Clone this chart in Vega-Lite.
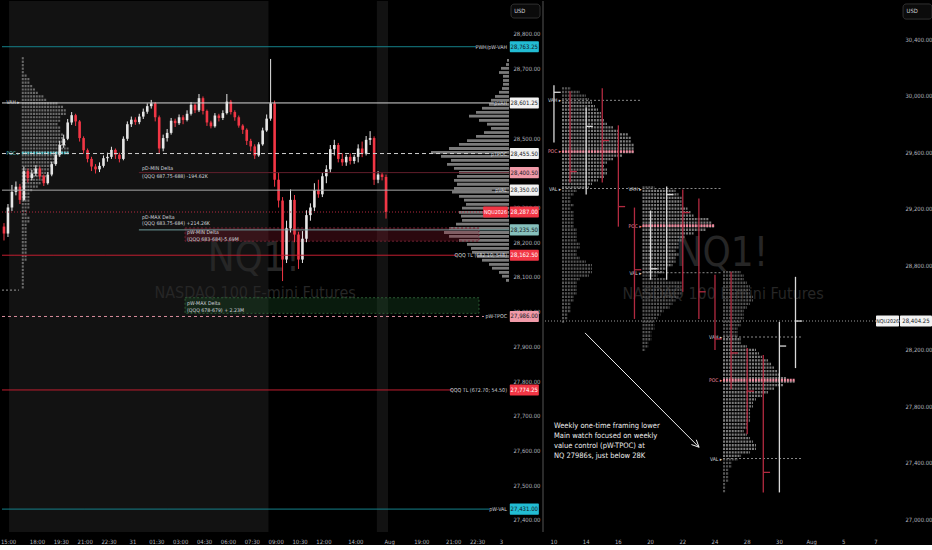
{
  "$schema": "https://vega.github.io/schema/vega-lite/v6.json",
  "background": "#000000",
  "padding": 0,
  "spacing": 34,
  "bounds": "flush",
  "config": {
    "view": {"stroke": null},
    "axis": {"grid": false, "domain": false, "ticks": false, "labelOverlap": false, "labelSeparation": 0, "labelBound": false, "labelFont": "Liberation Sans Narrow, DejaVu Sans Condensed, Roboto Condensed, Liberation Sans, sans-serif", "labelFontSize": 5.9, "labelColor": "#b2b5be"},
    "text": {"font": "Liberation Sans Narrow, DejaVu Sans Condensed, Roboto Condensed, Liberation Sans, sans-serif"}
  },
  "datasets": {
    "bands": [{"s": 1.26, "e": 66.46}, {"s": 93.7, "e": 96.5}],
    "timeL": [
      {"v": 1.15, "t": "15:00"}, {"v": 8.4, "t": "18:00"}, {"v": 14.4, "t": "19:30"}, {"v": 20.4, "t": "21:00"},
      {"v": 26.4, "t": "22:30"}, {"v": 32.4, "t": "31"}, {"v": 38.4, "t": "01:30"}, {"v": 44.4, "t": "03:00"},
      {"v": 50.4, "t": "04:30"}, {"v": 56.4, "t": "06:00"}, {"v": 62.4, "t": "07:30"}, {"v": 68.4, "t": "09:00"},
      {"v": 74.4, "t": "10:30"}, {"v": 80.4, "t": "12:00"}, {"v": 88.4, "t": "14:00"}, {"v": 96.9, "t": "Aug"},
      {"v": 105, "t": "19:00"}, {"v": 113, "t": "21:00"}, {"v": 119, "t": "22:30"}, {"v": 125, "t": "3"}
    ],
    "timeR": [
      {"v": 0, "t": "10"}, {"v": 2, "t": "14"}, {"v": 4, "t": "16"}, {"v": 6, "t": "20"}, {"v": 8, "t": "22"},
      {"v": 10, "t": "24"}, {"v": 12, "t": "28"}, {"v": 14, "t": "30"}, {"v": 16, "t": "Aug"}, {"v": 18, "t": "5"},
      {"v": 20, "t": "7"}
    ],
    "wm": [
      {"panel": "L", "role": "sym", "t": "NQ1!", "x": 62.8, "p": 28152},
      {"panel": "L", "role": "name", "t": "NASDAQ 100 E-mini Futures", "x": 63.1, "p": 28054},
      {"panel": "R", "role": "sym", "t": "NQ1!", "x": 10.43, "p": 28881},
      {"panel": "R", "role": "name", "t": "NASDAQ 100 E-mini Futures", "x": 10.5, "p": 28597}
    ],
    "candles": [
      {"i":0,"o":28245,"h":28255,"l":28205,"c":28225},{"i":1,"o":28225,"h":28310,"l":28215,"c":28300},
      {"i":2,"o":28300,"h":28365,"l":28290,"c":28345},{"i":3,"o":28345,"h":28375,"l":28335,"c":28360},
      {"i":4,"o":28360,"h":28368,"l":28310,"c":28322},{"i":5,"o":28322,"h":28418,"l":28318,"c":28405},
      {"i":6,"o":28405,"h":28412,"l":28372,"c":28385},{"i":7,"o":28385,"h":28408,"l":28378,"c":28398},
      {"i":8,"o":28398,"h":28422,"l":28390,"c":28412},{"i":9,"o":28412,"h":28418,"l":28382,"c":28390},
      {"i":10,"o":28390,"h":28395,"l":28362,"c":28370},{"i":11,"o":28370,"h":28402,"l":28366,"c":28395},
      {"i":12,"o":28395,"h":28432,"l":28390,"c":28425},{"i":13,"o":28425,"h":28460,"l":28420,"c":28452},
      {"i":14,"o":28452,"h":28492,"l":28446,"c":28480},{"i":15,"o":28480,"h":28510,"l":28472,"c":28498},
      {"i":16,"o":28498,"h":28555,"l":28494,"c":28545},{"i":17,"o":28545,"h":28575,"l":28538,"c":28566},
      {"i":18,"o":28566,"h":28570,"l":28535,"c":28548},{"i":19,"o":28548,"h":28552,"l":28490,"c":28500},
      {"i":20,"o":28500,"h":28505,"l":28455,"c":28465},{"i":21,"o":28465,"h":28470,"l":28430,"c":28440},
      {"i":22,"o":28440,"h":28446,"l":28405,"c":28418},{"i":23,"o":28418,"h":28425,"l":28398,"c":28410},
      {"i":24,"o":28410,"h":28430,"l":28402,"c":28420},{"i":25,"o":28420,"h":28450,"l":28415,"c":28442},
      {"i":26,"o":28442,"h":28458,"l":28432,"c":28446},{"i":27,"o":28446,"h":28475,"l":28440,"c":28466},
      {"i":28,"o":28466,"h":28470,"l":28440,"c":28452},{"i":29,"o":28452,"h":28458,"l":28430,"c":28440},
      {"i":30,"o":28440,"h":28505,"l":28436,"c":28498},{"i":31,"o":28498,"h":28548,"l":28492,"c":28540},
      {"i":32,"o":28540,"h":28562,"l":28532,"c":28553},{"i":33,"o":28553,"h":28560,"l":28538,"c":28546},
      {"i":34,"o":28546,"h":28570,"l":28540,"c":28562},{"i":35,"o":28562,"h":28585,"l":28555,"c":28576},
      {"i":36,"o":28576,"h":28600,"l":28570,"c":28592},{"i":37,"o":28592,"h":28610,"l":28585,"c":28600},
      {"i":38,"o":28600,"h":28604,"l":28548,"c":28560},{"i":39,"o":28560,"h":28565,"l":28455,"c":28470},
      {"i":40,"o":28470,"h":28510,"l":28462,"c":28500},{"i":41,"o":28500,"h":28526,"l":28490,"c":28515},
      {"i":42,"o":28515,"h":28558,"l":28510,"c":28550},{"i":43,"o":28550,"h":28556,"l":28532,"c":28543},
      {"i":44,"o":28543,"h":28568,"l":28538,"c":28560},{"i":45,"o":28560,"h":28566,"l":28540,"c":28552},
      {"i":46,"o":28552,"h":28580,"l":28548,"c":28570},{"i":47,"o":28570,"h":28604,"l":28565,"c":28596},
      {"i":48,"o":28596,"h":28600,"l":28572,"c":28580},{"i":49,"o":28580,"h":28627,"l":28575,"c":28615},
      {"i":50,"o":28615,"h":28620,"l":28568,"c":28578},{"i":51,"o":28578,"h":28582,"l":28535,"c":28545},
      {"i":52,"o":28545,"h":28550,"l":28528,"c":28534},{"i":53,"o":28534,"h":28572,"l":28530,"c":28565},
      {"i":54,"o":28565,"h":28570,"l":28548,"c":28558},{"i":55,"o":28558,"h":28580,"l":28552,"c":28572},
      {"i":56,"o":28572,"h":28627,"l":28568,"c":28605},{"i":57,"o":28605,"h":28610,"l":28568,"c":28575},
      {"i":58,"o":28575,"h":28580,"l":28550,"c":28560},{"i":59,"o":28560,"h":28565,"l":28530,"c":28536},
      {"i":60,"o":28536,"h":28540,"l":28512,"c":28524},{"i":61,"o":28524,"h":28528,"l":28480,"c":28492},
      {"i":62,"o":28492,"h":28498,"l":28462,"c":28476},{"i":63,"o":28476,"h":28482,"l":28440,"c":28450},
      {"i":64,"o":28450,"h":28488,"l":28446,"c":28482},{"i":65,"o":28482,"h":28530,"l":28478,"c":28522},
      {"i":66,"o":28522,"h":28568,"l":28518,"c":28556},{"i":67,"o":28556,"h":28728,"l":28550,"c":28600},
      {"i":68,"o":28600,"h":28608,"l":28360,"c":28380},{"i":69,"o":28380,"h":28400,"l":28300,"c":28320},
      {"i":70,"o":28320,"h":28330,"l":28088,"c":28150},{"i":71,"o":28150,"h":28262,"l":28140,"c":28240},
      {"i":72,"o":28240,"h":28352,"l":28228,"c":28322},{"i":73,"o":28322,"h":28336,"l":28200,"c":28222},
      {"i":74,"o":28222,"h":28230,"l":28123,"c":28150},{"i":75,"o":28150,"h":28232,"l":28140,"c":28210},
      {"i":76,"o":28210,"h":28292,"l":28200,"c":28278},{"i":77,"o":28278,"h":28312,"l":28262,"c":28300},
      {"i":78,"o":28300,"h":28370,"l":28290,"c":28350},{"i":79,"o":28350,"h":28380,"l":28328,"c":28338},
      {"i":80,"o":28338,"h":28400,"l":28330,"c":28390},{"i":81,"o":28390,"h":28422,"l":28370,"c":28410},
      {"i":82,"o":28410,"h":28480,"l":28400,"c":28468},{"i":83,"o":28468,"h":28495,"l":28450,"c":28480},
      {"i":84,"o":28480,"h":28486,"l":28430,"c":28440},{"i":85,"o":28440,"h":28456,"l":28420,"c":28430},
      {"i":86,"o":28430,"h":28452,"l":28420,"c":28446},{"i":87,"o":28446,"h":28456,"l":28424,"c":28434},
      {"i":88,"o":28434,"h":28452,"l":28426,"c":28446},{"i":89,"o":28446,"h":28482,"l":28430,"c":28470},
      {"i":90,"o":28470,"h":28490,"l":28445,"c":28455},{"i":91,"o":28455,"h":28506,"l":28450,"c":28495},
      {"i":92,"o":28495,"h":28520,"l":28480,"c":28500},{"i":93,"o":28500,"h":28505,"l":28365,"c":28380},
      {"i":94,"o":28380,"h":28405,"l":28370,"c":28395},{"i":95,"o":28395,"h":28400,"l":28378,"c":28388},
      {"i":96,"o":28388,"h":28395,"l":28268,"c":28287}
    ],
    "vp": [
      {"p":28728,"v":2},{"p":28716,"v":3},{"p":28705,"v":8},{"p":28693,"v":10},{"p":28682,"v":6},{"p":28670,"v":6},
      {"p":28659,"v":6},{"p":28647,"v":7},{"p":28636,"v":10},{"p":28624,"v":14},{"p":28613,"v":18},{"p":28601,"v":20},
      {"p":28590,"v":27},{"p":28578,"v":33},{"p":28567,"v":40},{"p":28555,"v":30},{"p":28544,"v":22},{"p":28532,"v":18},
      {"p":28520,"v":25},{"p":28509,"v":33},{"p":28497,"v":42},{"p":28486,"v":50},{"p":28474,"v":60},{"p":28463,"v":78},
      {"p":28451,"v":68},{"p":28440,"v":58},{"p":28428,"v":62},{"p":28417,"v":55},{"p":28405,"v":50},{"p":28394,"v":52},
      {"p":28382,"v":55},{"p":28371,"v":52},{"p":28359,"v":55},{"p":28348,"v":57},{"p":28336,"v":50},{"p":28325,"v":45},
      {"p":28313,"v":43},{"p":28302,"v":47},{"p":28290,"v":50},{"p":28279,"v":48},{"p":28267,"v":47},{"p":28256,"v":53},
      {"p":28244,"v":60},{"p":28232,"v":65},{"p":28221,"v":60},{"p":28209,"v":50},{"p":28198,"v":42},{"p":28186,"v":38},
      {"p":28175,"v":37},{"p":28163,"v":32},{"p":28152,"v":27},{"p":28140,"v":20},{"p":28129,"v":17},{"p":28117,"v":10},
      {"p":28106,"v":7},{"p":28094,"v":3}
    ],
    "tpoL": [
      {"p":28730,"n":1},{"p":28720,"n":1},{"p":28710,"n":1},{"p":28700,"n":1},{"p":28690,"n":1},{"p":28680,"n":2},
      {"p":28670,"n":3},{"p":28660,"n":3},{"p":28650,"n":4},{"p":28640,"n":5},{"p":28630,"n":6},{"p":28620,"n":8},
      {"p":28610,"n":9},{"p":28600,"n":13},{"p":28590,"n":15},{"p":28580,"n":16},{"p":28570,"n":16},{"p":28560,"n":14},
      {"p":28550,"n":14},{"p":28540,"n":13},{"p":28530,"n":14},{"p":28520,"n":14},{"p":28510,"n":15},{"p":28500,"n":15},
      {"p":28490,"n":16},{"p":28480,"n":16},{"p":28470,"n":17},{"p":28460,"n":17},{"p":28450,"n":14},{"p":28440,"n":13},
      {"p":28430,"n":13},{"p":28420,"n":11},{"p":28410,"n":10},{"p":28400,"n":10},{"p":28390,"n":9},{"p":28380,"n":8},
      {"p":28370,"n":7},{"p":28360,"n":6},{"p":28350,"n":4},{"p":28340,"n":3},{"p":28330,"n":3},{"p":28320,"n":3},
      {"p":28310,"n":3},{"p":28300,"n":3},{"p":28290,"n":2},{"p":28280,"n":2},{"p":28270,"n":3},{"p":28260,"n":3},
      {"p":28250,"n":2},{"p":28240,"n":2},{"p":28230,"n":2},{"p":28220,"n":2},{"p":28210,"n":2},{"p":28200,"n":2},
      {"p":28190,"n":2},{"p":28180,"n":2},{"p":28170,"n":2},{"p":28160,"n":2},{"p":28150,"n":2},{"p":28140,"n":1},
      {"p":28130,"n":1},{"p":28120,"n":1},{"p":28110,"n":1},{"p":28100,"n":1},{"p":28090,"n":1},{"p":28080,"n":1},
      {"p":28070,"n":1}
    ],
    "tpoLlv": [{"vah": 28604, "poc": 28457, "val": 28062, "pocn": 17}],
    "zones": [
      {"side": "min", "x0": 45.5, "x1": 119.35, "p0": 28241, "p1": 28203},
      {"side": "max", "x0": 45.5, "x1": 119.35, "p0": 28040, "p1": 27995}
    ],
    "levels": [
      {"p":28763.25,"kind":"teal","from":-0.5,"to":118.6,"name":"PWH/pW-VAH","box":"cyan"},
      {"p":28601.25,"kind":"white","from":-0.5,"to":123.1,"name":"pVAH","box":"white"},
      {"p":28455.5,"kind":"whitedash","from":-0.5,"to":122.1,"name":"pTPOC","box":"white"},
      {"p":28400.5,"kind":"darkred","from":33.9,"to":126.9,"name":"","box":"pink"},
      {"p":28350,"kind":"gray","from":-0.5,"to":122.6,"name":"pVAL","box":"white"},
      {"p":28287,"kind":"reddot","from":-0.5,"to":120.4,"name":"","box":"red"},
      {"p":28235.5,"kind":"tealgray","from":33.9,"to":126.9,"name":"","box":"tealgray"},
      {"p":28162.5,"kind":"red","from":-0.5,"to":113.8,"name":"QQQ TL (682.10; 548)","box":"red"},
      {"p":27986,"kind":"pinkdash","from":-0.5,"to":120.6,"name":"pW-TPOC","box":"pink"},
      {"p":27774.25,"kind":"red","from":-0.5,"to":112.6,"name":"QQQ TL (672.70; 54.50)","box":"red"},
      {"p":27431,"kind":"teal","from":-0.5,"to":121.9,"name":"pW-VAL","box":"cyan"}
    ],
    "notes": [
      {"x":34.7,"p":28414,"t":"pD-MIN Delta"},{"x":34.7,"p":28391,"t":"(QQQ 687.75-688) -194.62K"},
      {"x":34.7,"p":28274,"t":"pD-MAX Delta"},{"x":34.7,"p":28254,"t":"(QQQ 683.75-684) +214.26K"},
      {"x":46,"p":28229,"t":"pW-MIN Delta"},{"x":46,"p":28210,"t":"(QQQ 683-684)-5.69M"},
      {"x":46,"p":28026,"t":"pW-MAX Delta"},{"x":46,"p":28005,"t":"(QQQ 678-679) + 2.23M"}
    ],
    "symL": [{"sym": "NQU2026", "p": 28287}],
    "symR": [{"sym": "NQU2026", "p": 28404.25}],
    "usd": [{"t": "USD"}],
    "wkProf": [
      {"wk": 1, "vah": 29966, "poc": 29604, "val": 29342, "pocn": 24},
      {"wk": 6, "vah": 29342, "poc": 29079, "val": 28746, "pocn": 24},
      {"wk": 11, "vah": 28291, "poc": 27986, "val": 27431, "pocn": 24}
    ],
    "tpoW": [
      {"wk":1,"p":30050,"n":3},{"wk":1,"p":30025,"n":6},{"wk":1,"p":30000,"n":8},{"wk":1,"p":29975,"n":9},
      {"wk":1,"p":29950,"n":10},{"wk":1,"p":29925,"n":11},{"wk":1,"p":29900,"n":12},{"wk":1,"p":29875,"n":13},
      {"wk":1,"p":29850,"n":13},{"wk":1,"p":29825,"n":14},{"wk":1,"p":29800,"n":15},{"wk":1,"p":29775,"n":17},
      {"wk":1,"p":29750,"n":19},{"wk":1,"p":29725,"n":22},{"wk":1,"p":29700,"n":23},{"wk":1,"p":29675,"n":23},
      {"wk":1,"p":29650,"n":24},{"wk":1,"p":29625,"n":24},{"wk":1,"p":29600,"n":24},{"wk":1,"p":29575,"n":20},
      {"wk":1,"p":29550,"n":17},{"wk":1,"p":29525,"n":15},{"wk":1,"p":29500,"n":14},{"wk":1,"p":29475,"n":15},
      {"wk":1,"p":29450,"n":15},{"wk":1,"p":29425,"n":14},{"wk":1,"p":29400,"n":12},{"wk":1,"p":29375,"n":10},
      {"wk":1,"p":29350,"n":9},{"wk":1,"p":29325,"n":5},{"wk":1,"p":29300,"n":4},{"wk":1,"p":29275,"n":3},
      {"wk":1,"p":29250,"n":3},{"wk":1,"p":29225,"n":4},{"wk":1,"p":29200,"n":3},{"wk":1,"p":29175,"n":4},
      {"wk":1,"p":29150,"n":4},{"wk":1,"p":29125,"n":4},{"wk":1,"p":29100,"n":4},{"wk":1,"p":29075,"n":4},
      {"wk":1,"p":29050,"n":5},{"wk":1,"p":29025,"n":5},{"wk":1,"p":29000,"n":5},{"wk":1,"p":28975,"n":5},
      {"wk":1,"p":28950,"n":6},{"wk":1,"p":28925,"n":6},{"wk":1,"p":28900,"n":5},{"wk":1,"p":28875,"n":5},
      {"wk":1,"p":28850,"n":6},{"wk":1,"p":28825,"n":8},{"wk":1,"p":28800,"n":10},{"wk":1,"p":28775,"n":10},
      {"wk":1,"p":28750,"n":10},{"wk":1,"p":28725,"n":9},{"wk":1,"p":28700,"n":6},{"wk":1,"p":28675,"n":5},
      {"wk":1,"p":28650,"n":5},{"wk":1,"p":28625,"n":5},{"wk":1,"p":28600,"n":5},{"wk":1,"p":28575,"n":4},
      {"wk":1,"p":28550,"n":4},{"wk":1,"p":28525,"n":3},{"wk":1,"p":28500,"n":3},{"wk":1,"p":28475,"n":3},
      {"wk":1,"p":28450,"n":2},{"wk":1,"p":28425,"n":2},{"wk":1,"p":28400,"n":1},
      {"wk":6,"p":29350,"n":4},{"wk":6,"p":29325,"n":11},{"wk":6,"p":29300,"n":12},{"wk":6,"p":29275,"n":13},
      {"wk":6,"p":29250,"n":13},{"wk":6,"p":29225,"n":13},{"wk":6,"p":29200,"n":15},{"wk":6,"p":29175,"n":16},
      {"wk":6,"p":29150,"n":17},{"wk":6,"p":29125,"n":22},{"wk":6,"p":29100,"n":23},{"wk":6,"p":29075,"n":24},
      {"wk":6,"p":29050,"n":21},{"wk":6,"p":29025,"n":17},{"wk":6,"p":29000,"n":14},{"wk":6,"p":28975,"n":13},
      {"wk":6,"p":28950,"n":12},{"wk":6,"p":28925,"n":12},{"wk":6,"p":28900,"n":11},{"wk":6,"p":28875,"n":12},
      {"wk":6,"p":28850,"n":11},{"wk":6,"p":28825,"n":11},{"wk":6,"p":28800,"n":10},{"wk":6,"p":28775,"n":8},
      {"wk":6,"p":28750,"n":7},{"wk":6,"p":28725,"n":5},{"wk":6,"p":28700,"n":8},{"wk":6,"p":28675,"n":13},
      {"wk":6,"p":28650,"n":13},{"wk":6,"p":28625,"n":13},{"wk":6,"p":28600,"n":13},{"wk":6,"p":28575,"n":12},
      {"wk":6,"p":28550,"n":11},{"wk":6,"p":28525,"n":10},{"wk":6,"p":28500,"n":9},{"wk":6,"p":28475,"n":7},
      {"wk":6,"p":28450,"n":6},{"wk":6,"p":28425,"n":5},{"wk":6,"p":28400,"n":4},{"wk":6,"p":28375,"n":4},
      {"wk":6,"p":28350,"n":4},{"wk":6,"p":28325,"n":3},{"wk":6,"p":28300,"n":3},{"wk":6,"p":28275,"n":3},
      {"wk":6,"p":28250,"n":2},{"wk":6,"p":28225,"n":2},{"wk":6,"p":28200,"n":1},
      {"wk":11,"p":28750,"n":6},{"wk":11,"p":28725,"n":7},{"wk":11,"p":28700,"n":7},{"wk":11,"p":28675,"n":8},
      {"wk":11,"p":28650,"n":9},{"wk":11,"p":28625,"n":9},{"wk":11,"p":28600,"n":9},{"wk":11,"p":28575,"n":10},
      {"wk":11,"p":28550,"n":10},{"wk":11,"p":28525,"n":9},{"wk":11,"p":28500,"n":8},{"wk":11,"p":28475,"n":7},
      {"wk":11,"p":28450,"n":7},{"wk":11,"p":28425,"n":7},{"wk":11,"p":28400,"n":6},{"wk":11,"p":28375,"n":6},
      {"wk":11,"p":28350,"n":5},{"wk":11,"p":28325,"n":5},{"wk":11,"p":28300,"n":5},{"wk":11,"p":28275,"n":6},
      {"wk":11,"p":28250,"n":6},{"wk":11,"p":28225,"n":8},{"wk":11,"p":28200,"n":11},{"wk":11,"p":28175,"n":12},
      {"wk":11,"p":28150,"n":13},{"wk":11,"p":28125,"n":15},{"wk":11,"p":28100,"n":16},{"wk":11,"p":28075,"n":17},
      {"wk":11,"p":28050,"n":18},{"wk":11,"p":28025,"n":19},{"wk":11,"p":28000,"n":21},{"wk":11,"p":27975,"n":24},
      {"wk":11,"p":27950,"n":20},{"wk":11,"p":27925,"n":17},{"wk":11,"p":27900,"n":15},{"wk":11,"p":27875,"n":13},
      {"wk":11,"p":27850,"n":11},{"wk":11,"p":27825,"n":10},{"wk":11,"p":27800,"n":10},{"wk":11,"p":27775,"n":9},
      {"wk":11,"p":27750,"n":9},{"wk":11,"p":27725,"n":9},{"wk":11,"p":27700,"n":9},{"wk":11,"p":27675,"n":8},
      {"wk":11,"p":27650,"n":8},{"wk":11,"p":27625,"n":7},{"wk":11,"p":27600,"n":8},{"wk":11,"p":27575,"n":9},
      {"wk":11,"p":27550,"n":10},{"wk":11,"p":27525,"n":11},{"wk":11,"p":27500,"n":11},{"wk":11,"p":27475,"n":9},
      {"wk":11,"p":27450,"n":6},{"wk":11,"p":27425,"n":5},{"wk":11,"p":27400,"n":3},{"wk":11,"p":27375,"n":3},
      {"wk":11,"p":27350,"n":2},{"wk":11,"p":27325,"n":2},{"wk":11,"p":27300,"n":2},{"wk":11,"p":27275,"n":2},
      {"wk":11,"p":27250,"n":1},{"wk":11,"p":27225,"n":1},{"wk":11,"p":27200,"n":1}
    ],
    "daily": [
      {"k":0,"o":29700,"h":30073,"l":29668,"c":30023},{"k":1,"o":30020,"h":30030,"l":29384,"c":29462},
      {"k":2,"o":29460,"h":29917,"l":29299,"c":29782},{"k":3,"o":29785,"h":30052,"l":29384,"c":29682},
      {"k":4,"o":29680,"h":29789,"l":29072,"c":29214},{"k":5,"o":29200,"h":29207,"l":28419,"c":28767},
      {"k":6,"o":28720,"h":29186,"l":28696,"c":28774},{"k":7,"o":28775,"h":29356,"l":28696,"c":29299},
      {"k":8,"o":29300,"h":29335,"l":28611,"c":29172},{"k":9,"o":29170,"h":29271,"l":28419,"c":28611},
      {"k":10,"o":28610,"h":28731,"l":28199,"c":28277},{"k":11,"o":28280,"h":28753,"l":27922,"c":28178},
      {"k":12,"o":28180,"h":28213,"l":27603,"c":27908},{"k":13,"o":27905,"h":28164,"l":27191,"c":27333},
      {"k":14,"o":27335,"h":28398,"l":27191,"c":28227},{"k":15,"o":28228,"h":28717,"l":28071,"c":28404}
    ],
    "ann": [
      {"p": 27660, "t": "Weekly one-time framing lower"},
      {"p": 27589, "t": "Main watch focused on weekly"},
      {"p": 27518, "t": "value control (pW-TPOC) at"},
      {"p": 27447, "t": "NQ 27986s, just below 28K"}
    ],
    "arrow": [
      {"x": 1.93, "y": 28320, "x2": 9.01, "y2": 27511},
      {"x": 8.84, "y": 27564, "x2": 9.01, "y2": 27511},
      {"x": 8.54, "y": 27530, "x2": 9.01, "y2": 27511}
    ]
  },
  "hconcat": [
    {
      "width": 507,
      "height": 531,
      "layer": [
        {
          "data": {"name": "bands"},
          "mark": {"type": "rect", "color": "#121212"},
          "encoding": {
            "x": {"field": "s", "type": "quantitative", "scale": {"domain": [-0.5, 126.9], "nice": false, "zero": false},
              "axis": {"title": null, "labels": false, "values": [0]}},
            "x2": {"field": "e"}
          }
        },
        {
          "data": {"name": "timeL"},
          "transform": [{"calculate": "27336", "as": "py"}],
          "mark": {"type": "text", "fontSize": 5.9, "color": "#b2b5be", "baseline": "middle"},
          "encoding": {
            "x": {"field": "v", "type": "quantitative"},
            "y": {"field": "py", "type": "quantitative"},
            "text": {"field": "t"}
          }
        },
        {
          "data": {"name": "wm"},
          "transform": [{"filter": "datum.panel === 'L' && datum.role === 'sym'"}],
          "mark": {"type": "text", "fontSize": 40, "color": "#262626", "baseline": "middle"},
          "encoding": {
            "x": {"field": "x", "type": "quantitative"},
            "y": {"field": "p", "type": "quantitative", "scale": {"domain": [27365, 28895], "nice": false, "zero": false},
              "axis": {"orient": "right", "title": null, "values": [27400, 27500, 27600, 27700, 27800, 27900, 28000, 28100, 28200, 28300, 28500, 28700, 28800], "format": ",.2f", "labelPadding": 4, "labelOverlap": false}},
            "text": {"field": "t"}
          }
        },
        {
          "data": {"name": "wm"},
          "transform": [{"filter": "datum.panel === 'L' && datum.role === 'name'"}],
          "mark": {"type": "text", "fontSize": 16, "color": "#262626", "baseline": "middle"},
          "encoding": {
            "x": {"field": "x", "type": "quantitative"},
            "y": {"field": "p", "type": "quantitative"},
            "text": {"field": "t"}
          }
        },
        {
          "data": {"name": "tpoL"},
          "transform": [{"calculate": "4.27 + datum.n * 0.7035", "as": "x1"}],
          "mark": {"type": "rule", "color": "#6a6a6a", "strokeWidth": 2.2, "strokeDash": [2, 0.8]},
          "encoding": {
            "x": {"field": "x1", "type": "quantitative"},
            "x2": {"datum": 4.27},
            "y": {"field": "p", "type": "quantitative"}
          }
        },
        {
          "data": {"name": "tpoLlv"},
          "transform": [{"calculate": "4.27 + datum.pocn * 0.7035", "as": "x1"}],
          "mark": {"type": "rule", "color": "#5cc8cf", "strokeWidth": 2.4, "strokeDash": [2, 0.8]},
          "encoding": {
            "x": {"field": "x1", "type": "quantitative"},
            "x2": {"datum": 4.27},
            "y": {"field": "poc", "type": "quantitative"}
          }
        },
        {
          "data": {"name": "tpoLlv"},
          "transform": [{"calculate": "-0.5", "as": "x0"}],
          "mark": {"type": "rule", "color": "#9a9a9a", "strokeDash": [2, 2]},
          "encoding": {
            "x": {"field": "x0", "type": "quantitative"},
            "x2": {"datum": 3.77},
            "y": {"field": "val", "type": "quantitative"}
          }
        },
        {
          "data": {"name": "tpoLlv"},
          "transform": [{"fold": ["vah", "poc"], "as": ["k", "pv"]}, {"calculate": "upper(datum.k) + ' ▸'", "as": "lab"}, {"calculate": "3.9", "as": "x0"}],
          "mark": {"type": "text", "fontSize": 5, "align": "right", "baseline": "middle"},
          "encoding": {
            "x": {"field": "x0", "type": "quantitative"},
            "y": {"field": "pv", "type": "quantitative"},
            "text": {"field": "lab"},
            "color": {"condition": {"test": "datum.k === 'poc'", "value": "#5cc8cf"}, "value": "#d1d4dc"}
          }
        },
        {
          "data": {"name": "vp"},
          "transform": [{"calculate": "126.9 - datum.v / 3.98", "as": "x0"}, {"calculate": "datum.p - 8", "as": "pb"}],
          "mark": {"type": "rect", "color": "#7a7a7a"},
          "encoding": {
            "x": {"field": "x0", "type": "quantitative"},
            "x2": {"datum": 126.9},
            "y": {"field": "p", "type": "quantitative"},
            "y2": {"field": "pb"}
          }
        },
        {
          "data": {"name": "zones"},
          "mark": {"type": "rect", "strokeDash": [2, 2], "strokeWidth": 1},
          "encoding": {
            "x": {"field": "x0", "type": "quantitative"},
            "x2": {"field": "x1"},
            "y": {"field": "p0", "type": "quantitative"},
            "y2": {"field": "p1"},
            "fill": {"condition": {"test": "datum.side === 'min'", "value": "#8e1b2e"}, "value": "#1e5a2a"},
            "fillOpacity": {"value": 0.3},
            "stroke": {"condition": {"test": "datum.side === 'min'", "value": "#6d2030"}, "value": "#2c5a33"}
          }
        },
        {
          "data": {"name": "candles"},
          "mark": {"type": "rule", "strokeWidth": 1},
          "encoding": {
            "x": {"field": "i", "type": "quantitative"},
            "y": {"field": "l", "type": "quantitative"},
            "y2": {"field": "h"},
            "color": {"condition": {"test": "datum.c >= datum.o", "value": "#e6e6e6"}, "value": "#f23645"}
          }
        },
        {
          "data": {"name": "candles"},
          "mark": {"type": "rule", "strokeWidth": 2.6},
          "encoding": {
            "x": {"field": "i", "type": "quantitative"},
            "y": {"field": "o", "type": "quantitative"},
            "y2": {"field": "c"},
            "color": {"condition": {"test": "datum.c >= datum.o", "value": "#e6e6e6"}, "value": "#f23645"}
          }
        },
        {
          "data": {"name": "levels"},
          "mark": {"type": "rule", "strokeWidth": 1},
          "encoding": {
            "x": {"field": "from", "type": "quantitative"},
            "x2": {"field": "to"},
            "y": {"field": "p", "type": "quantitative"},
            "color": {"field": "kind", "type": "nominal", "legend": null,
              "scale": {"domain": ["teal", "white", "whitedash", "darkred", "gray", "reddot", "tealgray", "red", "pinkdash"],
                "range": ["#15808a", "#d6d6d6", "#cfcfcf", "#6a2230", "#a8a8a8", "#b3283f", "#74a3a3", "#c01e30", "#d88c9c"]}},
            "strokeDash": {"field": "kind", "type": "nominal", "legend": null,
              "scale": {"domain": ["teal", "white", "whitedash", "darkred", "gray", "reddot", "tealgray", "red", "pinkdash"],
                "range": [[1, 0], [1, 0], [4, 3], [1, 0], [1, 0], [1, 2], [1, 0], [1, 0], [3, 3]]}}
          }
        },
        {
          "data": {"name": "notes"},
          "mark": {"type": "text", "fontSize": 5.2, "align": "left", "baseline": "middle", "color": "#d1d4dc"},
          "encoding": {
            "x": {"field": "x", "type": "quantitative"},
            "y": {"field": "p", "type": "quantitative"},
            "text": {"field": "t"}
          }
        },
        {
          "data": {"name": "levels"},
          "transform": [{"filter": "datum.name !== ''"}, {"calculate": "126.4", "as": "xl"}],
          "mark": {"type": "text", "fontSize": 5.3, "align": "right", "baseline": "middle", "color": "#d1d4dc"},
          "encoding": {
            "x": {"field": "xl", "type": "quantitative"},
            "y": {"field": "p", "type": "quantitative"},
            "text": {"field": "name"}
          }
        },
        {
          "data": {"name": "levels"},
          "transform": [{"calculate": "datum.p + 16", "as": "pt"}, {"calculate": "datum.p - 16", "as": "pb"}, {"calculate": "127.1", "as": "bx0"}],
          "mark": {"type": "rect", "cornerRadius": 1},
          "encoding": {
            "x": {"field": "bx0", "type": "quantitative"},
            "x2": {"datum": 134.4},
            "y": {"field": "pt", "type": "quantitative"},
            "y2": {"field": "pb"},
            "fill": {"field": "box", "type": "nominal", "legend": null,
              "scale": {"domain": ["cyan", "white", "pink", "red", "tealgray"], "range": ["#22bcd3", "#f2f2f2", "#f09aa8", "#f23645", "#86c0bc"]}}
          }
        },
        {
          "data": {"name": "levels"},
          "transform": [{"calculate": "130.75", "as": "bxc"}],
          "mark": {"type": "text", "fontSize": 6, "align": "center", "baseline": "middle"},
          "encoding": {
            "x": {"field": "bxc", "type": "quantitative"},
            "y": {"field": "p", "type": "quantitative"},
            "text": {"field": "p", "type": "quantitative", "format": ",.2f"},
            "color": {"condition": {"test": "datum.box === 'red'", "value": "#ffffff"}, "value": "#131722"}
          }
        },
        {
          "data": {"name": "symL"},
          "transform": [{"calculate": "datum.p + 16", "as": "pt"}, {"calculate": "datum.p - 16", "as": "pb"}, {"calculate": "120.4", "as": "bx0"}],
          "mark": {"type": "rect", "color": "#f23645", "cornerRadius": 1},
          "encoding": {
            "x": {"field": "bx0", "type": "quantitative"},
            "x2": {"datum": 126.6},
            "y": {"field": "pt", "type": "quantitative"},
            "y2": {"field": "pb"}
          }
        },
        {
          "data": {"name": "symL"},
          "transform": [{"calculate": "123.5", "as": "bxc"}],
          "mark": {"type": "text", "fontSize": 5.3, "color": "#ffffff", "baseline": "middle"},
          "encoding": {
            "x": {"field": "bxc", "type": "quantitative"},
            "y": {"field": "p", "type": "quantitative"},
            "text": {"field": "sym"}
          }
        },
        {
          "data": {"name": "usd"},
          "transform": [{"calculate": "127.4", "as": "bx0"}, {"calculate": "28886", "as": "pt"}],
          "mark": {"type": "rect", "fill": "#0b0b0b", "stroke": "#303030", "cornerRadius": 3},
          "encoding": {
            "x": {"field": "bx0", "type": "quantitative"},
            "x2": {"datum": 134.7},
            "y": {"field": "pt", "type": "quantitative"},
            "y2": {"datum": 28846}
          }
        },
        {
          "data": {"name": "usd"},
          "transform": [{"calculate": "128.2", "as": "bx0"}, {"calculate": "28866", "as": "pm"}],
          "mark": {"type": "text", "fontSize": 5.8, "color": "#d1d4dc", "align": "left", "baseline": "middle"},
          "encoding": {
            "x": {"field": "bx0", "type": "quantitative"},
            "y": {"field": "pm", "type": "quantitative"},
            "text": {"field": "t"}
          }
        }
      ]
    },
    {
      "width": 357,
      "height": 531,
      "layer": [
        {
          "data": {"name": "wm"},
          "transform": [{"filter": "datum.panel === 'R' && datum.role === 'sym'"}],
          "mark": {"type": "text", "fontSize": 40, "color": "#262626", "baseline": "middle"},
          "encoding": {
            "x": {"field": "x", "type": "quantitative", "scale": {"domain": [-0.68, 21.49], "nice": false, "zero": false},
              "axis": {"title": null, "labels": false, "values": [0]}},
            "y": {"field": "p", "type": "quantitative", "scale": {"domain": [26911, 30669], "nice": false, "zero": false},
              "axis": {"orient": "right", "title": null, "values": [27000, 27200, 27400, 27600, 27800, 28000, 28200, 28600, 28800, 29000, 29200, 29400, 29600, 29800, 30000, 30200, 30400], "format": ",.2f", "labelPadding": 5, "labelOverlap": false}},
            "text": {"field": "t"}
          }
        },
        {
          "data": {"name": "timeR"},
          "transform": [{"calculate": "26840", "as": "py"}],
          "mark": {"type": "text", "fontSize": 5.9, "color": "#b2b5be", "baseline": "middle"},
          "encoding": {
            "x": {"field": "v", "type": "quantitative"},
            "y": {"field": "py", "type": "quantitative"},
            "text": {"field": "t"}
          }
        },
        {
          "data": {"name": "wm"},
          "transform": [{"filter": "datum.panel === 'R' && datum.role === 'name'"}],
          "mark": {"type": "text", "fontSize": 16, "color": "#262626", "baseline": "middle"},
          "encoding": {
            "x": {"field": "x", "type": "quantitative"},
            "y": {"field": "p", "type": "quantitative"},
            "text": {"field": "t"}
          }
        },
        {
          "data": {"name": "tpoW"},
          "transform": [
            {"lookup": "wk", "from": {"data": {"name": "wkProf"}, "key": "wk", "fields": ["vah", "val"]}},
            {"calculate": "datum.wk - 0.5", "as": "x0"},
            {"calculate": "datum.wk - 0.5 + datum.n * 0.1863", "as": "x1"}
          ],
          "mark": {"type": "rule", "strokeWidth": 2.3, "strokeDash": [2, 0.9]},
          "encoding": {
            "x": {"field": "x0", "type": "quantitative"},
            "x2": {"field": "x1"},
            "y": {"field": "p", "type": "quantitative"},
            "color": {"condition": {"test": "datum.p <= datum.vah && datum.p >= datum.val", "value": "#7c7c7c"}, "value": "#555555"}
          }
        },
        {
          "data": {"name": "wkProf"},
          "transform": [
            {"fold": ["vah", "val"], "as": ["k", "pv"]},
            {"calculate": "datum.wk - 0.5", "as": "x0"},
            {"calculate": "datum.wk + 4.45", "as": "x1"}
          ],
          "mark": {"type": "rule", "color": "#8a8a8a", "strokeDash": [2, 2], "strokeWidth": 1},
          "encoding": {
            "x": {"field": "x0", "type": "quantitative"},
            "x2": {"field": "x1"},
            "y": {"field": "pv", "type": "quantitative"}
          }
        },
        {
          "data": {"name": "wkProf"},
          "transform": [
            {"calculate": "datum.wk - 0.5", "as": "x0"},
            {"calculate": "datum.wk - 0.5 + datum.pocn * 0.1863", "as": "x1"}
          ],
          "mark": {"type": "rule", "color": "#ee8a9e", "strokeDash": [2, 0.9], "strokeWidth": 2.6},
          "encoding": {
            "x": {"field": "x0", "type": "quantitative"},
            "x2": {"field": "x1"},
            "y": {"field": "poc", "type": "quantitative"}
          }
        },
        {
          "data": {"name": "wkProf"},
          "transform": [
            {"fold": ["vah", "poc", "val"], "as": ["k", "pv"]},
            {"calculate": "datum.wk - 0.5", "as": "x0"},
            {"calculate": "upper(datum.k) + ' ▸'", "as": "lab"}
          ],
          "mark": {"type": "text", "fontSize": 5, "align": "right", "baseline": "middle", "dx": -1},
          "encoding": {
            "x": {"field": "x0", "type": "quantitative"},
            "y": {"field": "pv", "type": "quantitative"},
            "text": {"field": "lab"},
            "color": {"condition": {"test": "datum.k === 'poc'", "value": "#ee8a9e"}, "value": "#d1d4dc"}
          }
        },
        {
          "data": {"name": "symR"},
          "mark": {"type": "rule", "color": "#9a9a9a", "strokeDash": [1, 2], "strokeWidth": 1},
          "encoding": {
            "y": {"field": "p", "type": "quantitative"}
          }
        },
        {
          "data": {"name": "daily"},
          "mark": {"type": "rule", "strokeWidth": 1.3},
          "encoding": {
            "x": {"field": "k", "type": "quantitative"},
            "y": {"field": "l", "type": "quantitative"},
            "y2": {"field": "h"},
            "color": {"condition": {"test": "datum.c >= datum.o", "value": "#d9d9d9"}, "value": "#b22a40"}
          }
        },
        {
          "data": {"name": "daily"},
          "transform": [{"calculate": "datum.k + 0.42", "as": "k2"}],
          "mark": {"type": "rule", "strokeWidth": 1.3},
          "encoding": {
            "x": {"field": "k", "type": "quantitative"},
            "x2": {"field": "k2"},
            "y": {"field": "c", "type": "quantitative"},
            "color": {"condition": {"test": "datum.c >= datum.o", "value": "#d9d9d9"}, "value": "#b22a40"}
          }
        },
        {
          "data": {"name": "ann"},
          "transform": [{"calculate": "0", "as": "x0"}],
          "mark": {"type": "text", "fontSize": 7.5, "align": "left", "baseline": "middle", "color": "#ececec"},
          "encoding": {
            "x": {"field": "x0", "type": "quantitative"},
            "y": {"field": "p", "type": "quantitative"},
            "text": {"field": "t"}
          }
        },
        {
          "data": {"name": "arrow"},
          "mark": {"type": "rule", "color": "#f0f0f0", "strokeWidth": 1},
          "encoding": {
            "x": {"field": "x", "type": "quantitative"},
            "x2": {"field": "x2"},
            "y": {"field": "y", "type": "quantitative"},
            "y2": {"field": "y2"}
          }
        },
        {
          "data": {"name": "symR"},
          "transform": [{"calculate": "datum.p + 39", "as": "pt"}, {"calculate": "datum.p - 39", "as": "pb"}, {"calculate": "20.0", "as": "bx0"}],
          "mark": {"type": "rect", "color": "#f2f2f2", "cornerRadius": 1},
          "encoding": {
            "x": {"field": "bx0", "type": "quantitative"},
            "x2": {"datum": 21.43},
            "y": {"field": "pt", "type": "quantitative"},
            "y2": {"field": "pb"}
          }
        },
        {
          "data": {"name": "symR"},
          "transform": [{"calculate": "datum.p + 39", "as": "pt"}, {"calculate": "datum.p - 39", "as": "pb"}, {"calculate": "21.49", "as": "bx0"}],
          "mark": {"type": "rect", "color": "#f2f2f2", "cornerRadius": 1},
          "encoding": {
            "x": {"field": "bx0", "type": "quantitative"},
            "x2": {"datum": 23.48},
            "y": {"field": "pt", "type": "quantitative"},
            "y2": {"field": "pb"}
          }
        },
        {
          "data": {"name": "symR"},
          "transform": [{"calculate": "20.72", "as": "bxc"}],
          "mark": {"type": "text", "fontSize": 5.3, "color": "#131722", "baseline": "middle"},
          "encoding": {
            "x": {"field": "bxc", "type": "quantitative"},
            "y": {"field": "p", "type": "quantitative"},
            "text": {"field": "sym"}
          }
        },
        {
          "data": {"name": "symR"},
          "transform": [{"calculate": "22.48", "as": "bxc"}],
          "mark": {"type": "text", "fontSize": 6, "color": "#131722", "baseline": "middle"},
          "encoding": {
            "x": {"field": "bxc", "type": "quantitative"},
            "y": {"field": "p", "type": "quantitative"},
            "text": {"field": "p", "type": "quantitative", "format": ",.2f"}
          }
        },
        {
          "data": {"name": "usd"},
          "transform": [{"calculate": "21.68", "as": "bx0"}, {"calculate": "30648", "as": "pt"}],
          "mark": {"type": "rect", "fill": "#0b0b0b", "stroke": "#303030", "cornerRadius": 3},
          "encoding": {
            "x": {"field": "bx0", "type": "quantitative"},
            "x2": {"datum": 23.48},
            "y": {"field": "pt", "type": "quantitative"},
            "y2": {"datum": 30541}
          }
        },
        {
          "data": {"name": "usd"},
          "transform": [{"calculate": "21.9", "as": "bx0"}, {"calculate": "30595", "as": "pm"}],
          "mark": {"type": "text", "fontSize": 5.8, "color": "#d1d4dc", "align": "left", "baseline": "middle"},
          "encoding": {
            "x": {"field": "bx0", "type": "quantitative"},
            "y": {"field": "pm", "type": "quantitative"},
            "text": {"field": "t"}
          }
        },
        {
          "data": {"name": "usd"},
          "transform": [{"calculate": "-0.68", "as": "x0"}],
          "mark": {"type": "rule", "color": "#2a2a2a", "strokeWidth": 2},
          "encoding": {
            "x": {"field": "x0", "type": "quantitative"}
          }
        }
      ]
    }
  ]
}
